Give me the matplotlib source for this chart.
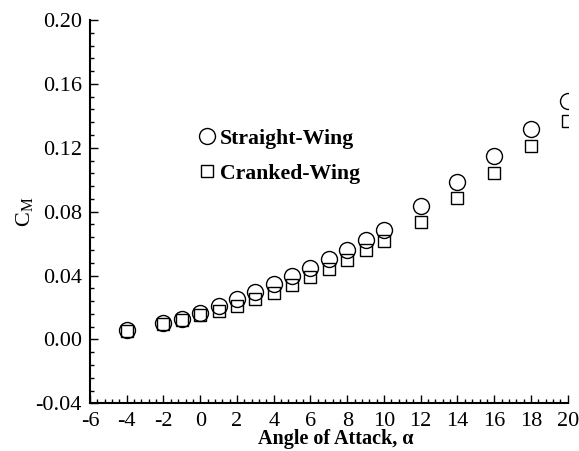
import matplotlib
matplotlib.use("Agg")
import matplotlib.pyplot as plt
from matplotlib.ticker import MultipleLocator, FormatStrFormatter

# angle of attack (deg)
alpha = [-4, -2, -1, 0, 1, 2, 3, 4, 5, 6, 7, 8, 9, 10, 12, 14, 16, 18, 20]
# pitching moment coefficient
cm_straight = [0.0058, 0.0100, 0.0129, 0.0167, 0.0212, 0.0250, 0.0296, 0.0348, 0.0396,
               0.0448, 0.0506, 0.0562, 0.0621, 0.0688, 0.0836, 0.0985, 0.1146, 0.1320, 0.1490]
cm_cranked = [0.0055, 0.0095, 0.0120, 0.0150, 0.0180, 0.0210, 0.0250, 0.0290, 0.0340,
              0.0390, 0.0442, 0.0500, 0.0558, 0.0615, 0.0736, 0.0885, 0.1042, 0.1208, 0.1365]

plt.rcParams["font.family"] = ["Liberation Serif", "DejaVu Serif"]
plt.rcParams["mathtext.fontset"] = "custom"
plt.rcParams["mathtext.rm"] = "Liberation Serif"
plt.rcParams["mathtext.it"] = "Liberation Serif:italic"
plt.rcParams["mathtext.bf"] = "Liberation Serif:bold"

fig = plt.figure(figsize=(5.79, 4.51), dpi=100)
ax = fig.add_axes([0.1554, 0.1058, 0.8251, 0.8499])

ax.plot(alpha, cm_straight, linestyle="none", marker="o", markersize=11.5,
        markerfacecolor="none", markeredgecolor="black", markeredgewidth=1.0,
        label="Straight-Wing")
ax.plot(alpha, cm_cranked, linestyle="none", marker="s", markersize=8.6,
        markerfacecolor="none", markeredgecolor="black", markeredgewidth=1.0,
        label="Cranked-Wing")

ax.set_xlim(-6, 20)
ax.set_ylim(-0.04, 0.20)
ax.xaxis.set_major_locator(MultipleLocator(2))
ax.xaxis.set_minor_locator(MultipleLocator(0.4))
ax.yaxis.set_major_locator(MultipleLocator(0.04))
ax.yaxis.set_minor_locator(MultipleLocator(0.008))
ax.yaxis.set_major_formatter(FormatStrFormatter("%.2f"))
ax.xaxis.set_major_formatter(FormatStrFormatter("%d"))

ax.spines["top"].set_visible(False)
ax.spines["right"].set_visible(False)
ax.spines["left"].set_linewidth(1.5)
ax.spines["bottom"].set_linewidth(1.5)
ax.tick_params(which="both", direction="in", width=1.0, labelsize=16)
ax.tick_params(axis="x", pad=6)
ax.tick_params(axis="y", pad=6)
ax.tick_params(which="major", length=6)
ax.tick_params(which="minor", length=3)

ax.set_xlabel("Angle of Attack, α", fontsize=14.5, fontweight="bold", labelpad=0)
ax.xaxis.set_label_coords(0.515, -0.067)
ax.set_ylabel(r"$\mathrm{C_M}$", fontsize=16, labelpad=0)

leg = ax.legend(loc="upper left", bbox_to_anchor=(0.218, 0.717), frameon=False,
                fontsize=15.7, handletextpad=0.0, labelspacing=0.68,
                handlelength=1.2, borderpad=0, borderaxespad=0)
for t in leg.get_texts():
    t.set_fontweight("bold")

fig.savefig("out.png", dpi=100)
